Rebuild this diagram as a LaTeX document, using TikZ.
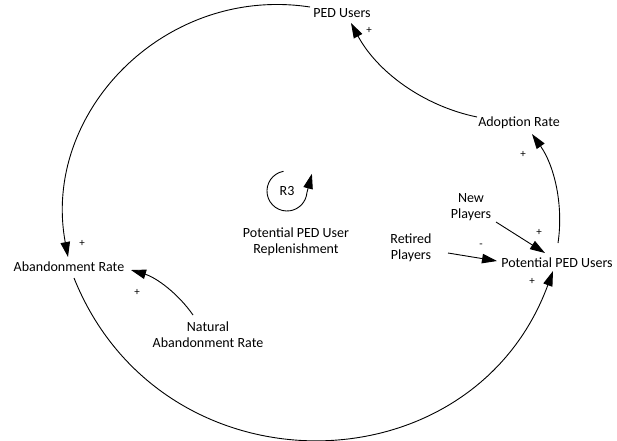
\documentclass[tikz,border=0pt]{standalone}
\usepackage{fontspec}
\setmainfont{Carlito}
\usetikzlibrary{arrows.meta}
\begin{document}
\begin{tikzpicture}[x=1pt,y=-1pt,
  var/.style={inner sep=1pt, font=\fontsize{14}{16}\selectfont, align=center},
  link/.style={line width=0.9pt, -{Triangle[length=15pt,width=9.5pt]}},
  pol/.style={inner sep=0pt, font=\fontsize{11}{11}\selectfont}]
\useasboundingbox (0,0) rectangle (617,440);

% variables
\node[var] (ped)   at (342,13)  {PED Users};
\node[var] (adopt) at (519,123) {Adoption Rate};
\node[var] (pot)   at (557,263) {Potential PED Users};
\node[var] (newp)  at (471,207) {New\\Players};
\node[var] (ret)   at (411,248) {Retired\\Players};
\node[var] (abd)   at (69,267)  {Abandonment Rate};
\node[var] (nat)   at (208,335) {Natural\\Abandonment Rate};

% loop marker
\node[var] (r3)    at (287,191) {R3};
\node[var] (repl)  at (296,242) {Potential PED User\\Replenishment};
\draw[link] ([shift={(-3.5,-19.7)}]r3.center)
  arc[start angle=-100, end angle=-355, radius=20] -- ++(5,-19);

% causal links
\draw[link] ([shift={(-32,-6)}]ped.center)
  .. controls +(-145.2,-22.2) and +(-26.9,-144.3) .. ([shift={(-1,-10)}]abd.center);
\draw[link] ([shift={(5,11)}]abd.center)
  .. controls +(87.6,218.2) and +(-81.1,220.8) .. ([shift={(-4,8)}]pot.center);
\draw[link] ([shift={(1,-20)}]pot.center)
  .. controls +(5.7,-38.2) and +(22.3,31.6) .. ([shift={(13,11)}]adopt.center);
\draw[link] ([shift={(-42,-6)}]adopt.center)
  .. controls +(-53.9,-11.1) and +(26.0,48.5) .. ([shift={(9,10)}]ped.center);
\draw[link] ([shift={(-15,-20)}]nat.center)
  .. controls +(-15.0,-21.6) and +(25.2,7.5) .. ([shift={(62,3)}]abd.center);
\draw[link] ([shift={(25,15)}]newp.center) -- ([shift={(-12,-10)}]pot.center);
\draw[link] ([shift={(37,5)}]ret.center) -- ([shift={(-60,-2)}]pot.center);

% polarities
\node[pol] (p1) at (369,30)  {+};
\node[pol] (p2) at (523,154) {+};
\node[pol] (p3) at (539,232) {+};
\node[pol] (p4) at (481,246) {-};
\node[pol] (p5) at (532,281) {+};
\node[pol] (p6) at (82,243)  {+};
\node[pol] (p7) at (137,292) {+};
\end{tikzpicture}
\end{document}
